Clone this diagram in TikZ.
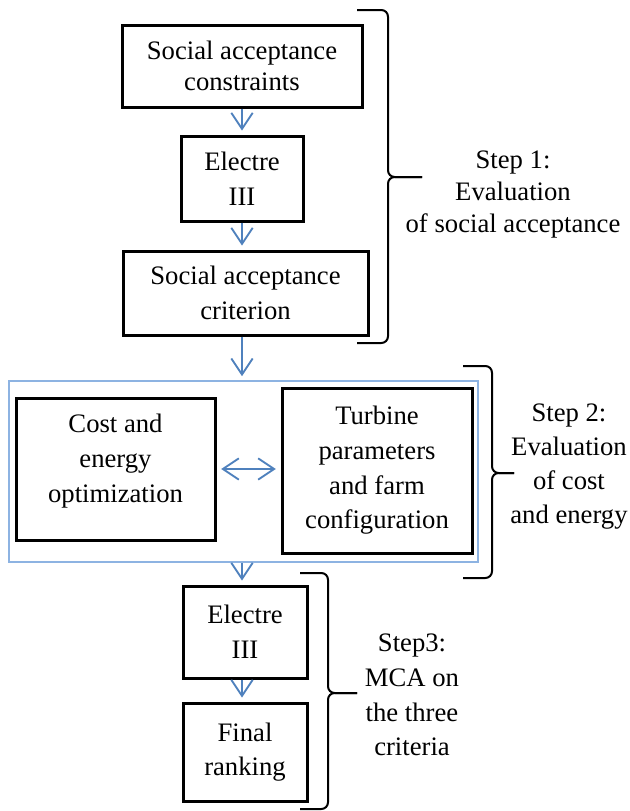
\documentclass[tikz,border=0pt]{standalone}
\usepackage{fontspec}
\setmainfont{Liberation Serif}
\usetikzlibrary{arrows.meta}
\definecolor{arrowblue}{HTML}{4F81BD}
\definecolor{frameblue}{HTML}{8DB3E2}
\tikzset{
  box/.style={draw=black, line width=2.25pt, inner sep=0pt, align=center,
    font=\fontsize{20pt}{26pt}\selectfont},
  txt/.style={inner sep=0pt, align=center, font=\fontsize{20pt}{26pt}\selectfont},
  tighttxt/.style={inner sep=0pt, align=center, font=\fontsize{20pt}{24pt}\selectfont},
  flow/.style={draw=arrowblue, line width=1.4pt, -{Straight Barb[length=12pt,width=16pt]}, shorten >=3pt},
  bothflow/.style={draw=arrowblue, line width=1.4pt, {Straight Barb[length=12pt,width=16pt]}-{Straight Barb[length=12pt,width=16pt]}, shorten >=3.5pt, shorten <=3.5pt},
  bracepath/.style={draw=black, line width=1.5pt, rounded corners=5pt},
  frame/.style={draw=frameblue, line width=1.2pt, inner sep=0pt},
}
\begin{document}
\begin{tikzpicture}[x=0.75pt,y=-0.75pt]
\useasboundingbox (0,0) rectangle (629,811);

% Step 1
\node[box, minimum width=180pt, minimum height=61.5pt, font=\fontsize{20pt}{23.5pt}\selectfont] (sac) at (242,66) {Social acceptance\\constraints};
\node[box, minimum width=91.5pt, minimum height=63.75pt] (el1) at (242,178.5) {Electre\\III};
\node[box, minimum width=183.75pt, minimum height=63pt] (sacr) at (245.5,293) {Social acceptance\\criterion};

% Step 2
\node[frame, minimum width=351.75pt, minimum height=135.75pt] (frm) at (243.5,471.5) {};
\node[box, minimum width=149.25pt, minimum height=106.5pt] (cost) at (115.5,469) {};
\node[txt] (costtxt) at (115.5,461) {Cost and\\energy\\optimization};
\node[box, minimum width=142.5pt, minimum height=123.75pt] (turb) at (377,470.5) {Turbine\\parameters\\and farm\\configuration};

% Step 3
\node[box, minimum width=93pt, minimum height=69pt] (el2) at (245,632) {Electre\\III};
\node[box, minimum width=93pt, minimum height=73.5pt] (rank) at (245,752) {Final\\ranking};

% arrows
\draw[flow] (sac.south -| el1.south) -- (el1.north);
\draw[flow] (el1.south) -- (el1.south |- sacr.north);
\draw[flow] (sacr.south -| el1.south) -- (el1.south |- frm.north);
\draw[flow] (frm.south -| el1.south) -- (el1.south |- el2.north);
\draw[flow] (el2.south -| el1.south) -- (el1.south |- rank.north);
\draw[bothflow] (cost.east) -- (cost.east -| turb.west);

% braces
\coordinate (b1t) at (357,10);
\coordinate (b1b) at (357,343);
\coordinate (b1m) at (422,177);
\draw[bracepath] (b1t) -- (388,10) -- (388,177) -- (b1m);
\draw[bracepath] (b1b) -- (388,343) -- (388,177) -- (b1m);
\coordinate (b2t) at (463,366);
\coordinate (b2b) at (463,578);
\coordinate (b2m) at (514,473);
\draw[bracepath] (b2t) -- (492,366) -- (492,473) -- (b2m);
\draw[bracepath] (b2b) -- (492,578) -- (492,473) -- (b2m);
\coordinate (b3t) at (300,573);
\coordinate (b3b) at (300,809);
\coordinate (b3m) at (357,693);
\draw[bracepath] (b3t) -- (328,573) -- (328,693) -- (b3m);
\draw[bracepath] (b3b) -- (328,809) -- (328,693) -- (b3m);

% step labels
\node[tighttxt] (s1) at (513,195) {Step 1:\\Evaluation\\of social acceptance};
\node[txt, font=\fontsize{20pt}{25.5pt}\selectfont] (s2) at (569,467) {Step 2:\\Evaluation\\of cost\\and energy};
\node[txt] (s3) at (412,695) {Step3:\\MCA on\\the three\\criteria};
\end{tikzpicture}
\end{document}
